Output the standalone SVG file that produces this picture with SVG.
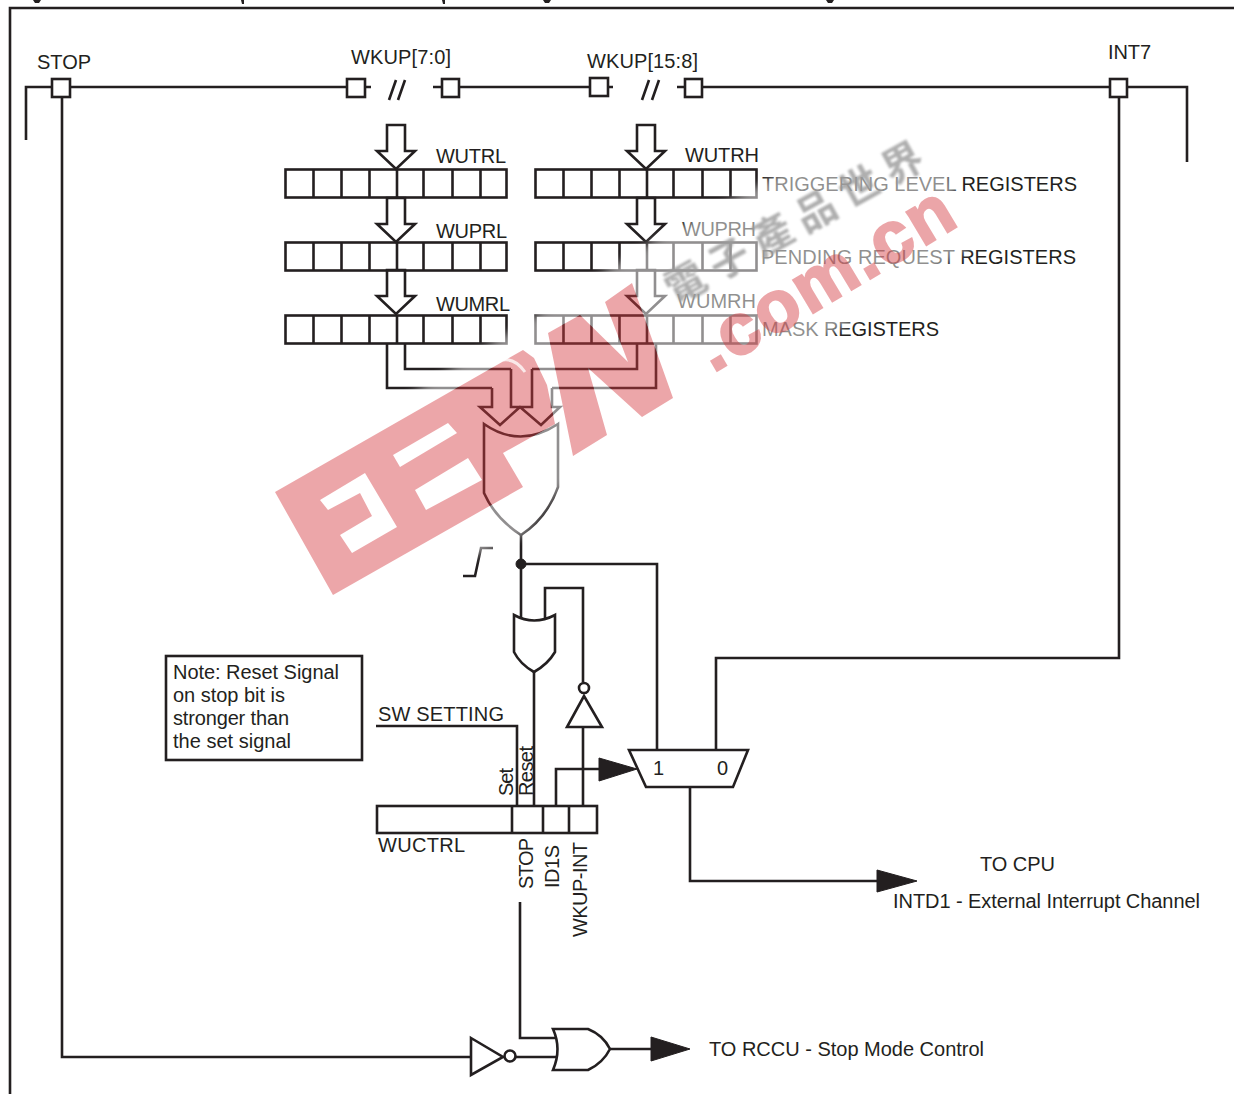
<svg xmlns="http://www.w3.org/2000/svg" width="1234" height="1094" viewBox="0 0 1234 1094">
<style>
.l{fill:none;stroke:#231f20;stroke-width:2.6;stroke-linejoin:miter}
.w{fill:#fff;stroke:#231f20;stroke-width:2.6}
.k{fill:#231f20;stroke:#231f20;stroke-width:1}
text{font-family:"Liberation Sans",Arial,sans-serif;font-size:20px;fill:#231f20}
.red{fill:rgb(213,58,64);fill-opacity:.45}
</style>
<defs>
<g id="reg"><rect class="l" x="0" y="0" width="221" height="28"/><path class="l" d="M28 0V28M56 0V28M84 0V28M111.500 0V28M138 0V28M167 0V28M195 0V28"/></g>
<path id="arr" class="l" d="M-9 0V26H-19L0 44 19 26H9V0Z" fill="#fff"/>
<path id="logo" fill-rule="evenodd" d="M275 492L523 350 534 358 547 385 555 424 503 453 523 487 333 595ZM320 500L365 473 397 527 352 553 340 535 372 516 360 493 328 510ZM393 455L448 423 457 433 400 467ZM415 490L468 458 482 480 426 510ZM548 333L580 315 628 362 605 302 632 283 673 398 642 417 588 368 607 435 573 456Z"/>
<mask id="nored" maskUnits="userSpaceOnUse" x="0" y="0" width="1234" height="1094"><rect width="1234" height="1094" fill="#fff"/><use href="#logo" fill="#000"/></mask>
<filter id="b" x="-10%" y="-10%" width="120%" height="120%"><feGaussianBlur stdDeviation="4"/></filter>
<filter id="s" x="-5%" y="-20%" width="110%" height="140%"><feGaussianBlur stdDeviation="0.8"/></filter>
</defs>
<rect width="1234" height="1094" fill="#fff"/>
<g id="frame"><path class="l" d="M1234 8H10V1094"/>
<path d="M33 0h8l-2 3h-4zM241 0h3v4h-2zM442 0h3v4h-2zM543 0h8l-2 3h-4zM826 0h8l-2 3h-4z" fill="#231f20"/></g>
<g id="connectors">
<path class="l" d="M26 140V87H371M433 87H613M677 87H1187V162"/>
<path class="l" d="M62 97V1057H472"/>
<path class="l" d="M1119 97V658H716V750"/>
<path class="l" d="M387 344V388H492M405 344V369H511"/>
<path class="l" d="M656 344V388H552M637 344V369H532"/>
<path class="l" d="M521 535V620M521 564H657V750"/>
<path class="l" d="M545 620V588H583V682M583 727V806"/>
<path class="l" d="M534 672V806"/>
<path class="l" d="M376 726H517V806"/>
<path class="l" d="M556 806V769H600"/>
<path class="l" d="M690 787V881H878"/>
<path class="l" d="M520 902V1038H555M516 1057H558M610 1049H652"/>
<path class="l" d="M463 576H475L481 548H493"/>
<circle cx="521" cy="564" r="5" class="k"/>
<polygon class="k" points="599,758 637,769 599,781"/>
<polygon class="k" points="877,870 917,881 877,892"/>
<polygon class="k" points="651,1037 690,1049 651,1061"/>
</g>
<g id="pin-stop"><rect class="w" x="52" y="79" width="18" height="18"/><text x="37" y="69" textLength="54">STOP</text></g>
<g id="pin-wkup-l"><rect class="w" x="347" y="79" width="18" height="18"/><path class="l" d="M389 100L396 80M398 100L405 80"/><rect class="w" x="442" y="79" width="17" height="18"/><text x="351" y="64" textLength="100">WKUP[7:0]</text></g>
<g id="pin-wkup-h"><rect class="w" x="590" y="78" width="18" height="18"/><path class="l" d="M642 100L649 80M652 100L659 80"/><rect class="w" x="685" y="79" width="17" height="18"/><text x="587" y="68" textLength="111">WKUP[15:8]</text></g>
<g id="pin-int7"><rect class="w" x="1110" y="79" width="17" height="18"/><text x="1108" y="59" textLength="43">INT7</text></g>
<g id="regs-low">
<use href="#arr" x="396" y="125"/><use href="#reg" x="285.500" y="169.500"/><use href="#arr" x="396" y="198"/><use href="#reg" x="285.500" y="242.500"/><use href="#arr" x="396" y="270"/><use href="#reg" x="285.500" y="315.500"/>
<text x="436" y="163" textLength="70">WUTRL</text><text x="436" y="238" textLength="71">WUPRL</text><text x="436" y="311" textLength="74">WUMRL</text>
</g>
<g id="regs-high">
<use href="#arr" x="646" y="125"/><use href="#reg" x="535.500" y="169.500"/><use href="#arr" x="646" y="198"/><use href="#reg" x="535.500" y="242.500"/><use href="#arr" x="646" y="270"/><use href="#reg" x="535.500" y="315.500"/>
<text x="685" y="162" textLength="74">WUTRH</text><text x="682" y="236" textLength="74">WUPRH</text><text x="677" y="308" textLength="79">WUMRH</text>
<text x="762" y="191" textLength="315">TRIGGERING LEVEL REGISTERS</text><text x="761" y="264" textLength="315">PENDING REQUEST REGISTERS</text><text x="762" y="336" textLength="177">MASK REGISTERS</text>
</g>
<g id="merge-arrows">
<path class="l" d="M492 388V407H480L500 425 520 407 541 425 560 407H552V388M511 369V407H532V369"/>
</g>
<g id="or-main"><path class="w" d="M484 424Q520 449 558 424V487Q547 518 521 535Q495 518 484 493Z"/></g>
<g id="or-stop"><path class="w" d="M514 615Q534 626 555 615V652Q548 664 534 672Q520 664 514 652Z"/></g>
<g id="not-wkup"><circle class="w" cx="584" cy="688" r="5"/><polygon class="w" points="584,696 602,727 567,727"/></g>
<g id="note"><rect class="l" x="166" y="656" width="196" height="104"/>
<text x="173" y="679" textLength="166">Note: Reset Signal</text><text x="173" y="702" textLength="112">on stop bit is</text><text x="173" y="725" textLength="116">stronger than</text><text x="173" y="748" textLength="118">the set signal</text></g>
<g id="wuctrl"><rect class="w" x="377" y="806" width="220" height="27"/><path class="l" d="M512 806V833M543 806V833M569 806V833"/>
<text x="378" y="852" textLength="87">WUCTRL</text><text x="378" y="721" textLength="126">SW SETTING</text>
<text transform="translate(513 796) rotate(-90)" textLength="28">Set</text><text transform="translate(533 796) rotate(-90)" textLength="50">Reset</text>
<text transform="translate(533 889) rotate(-90)" textLength="51">STOP</text><text transform="translate(559 888) rotate(-90)" textLength="43">ID1S</text><text transform="translate(587 937) rotate(-90)" textLength="95">WKUP-INT</text></g>
<g id="mux"><polygon class="w" points="629,750 748,750 733,787 646,787"/><text x="653" y="775">1</text><text x="717" y="775">0</text></g>
<g id="not-stop"><polygon class="w" points="471,1038 503,1057 471,1075"/><circle class="w" cx="510" cy="1056" r="5.500"/></g>
<g id="or-rccu"><path class="w" d="M553 1029H588Q603 1035 610 1049Q603 1063 588 1070H553Q562 1049 553 1029Z"/></g>
<g id="outputs"><text x="980" y="871" textLength="75">TO CPU</text><text x="893" y="908" textLength="307">INTD1 - External Interrupt Channel</text><text x="709" y="1056" textLength="275">TO RCCU - Stop Mode Control</text></g>
<g id="watermark">
<g mask="url(#nored)"><polygon filter="url(#b)" fill="#fff" fill-opacity=".5" points="262,490 420,388 535,316 650,243 750,190 860,130 940,150 975,245 830,335 680,420 560,490 525,535 340,612"/></g>
<use href="#logo" class="red"/>
<path d="M503 360Q515 358 525 372" fill="none" stroke="#fff" stroke-opacity=".75" stroke-width="3"/>
<g opacity=".45"><text transform="translate(713 373) rotate(-31)" style="font-size:72px;font-weight:bold;fill:rgb(213,58,64);stroke:rgb(213,58,64);stroke-width:2.500" textLength="288">.com.cn</text></g>
<text transform="translate(675 305) rotate(-29)" filter="url(#s)" style="font-family:'Noto Sans CJK TC',sans-serif;font-size:40px;font-weight:bold;fill:#9a9a9a;fill-opacity:.8;letter-spacing:9.600px">電子產品世界</text>
</g>
</svg>
